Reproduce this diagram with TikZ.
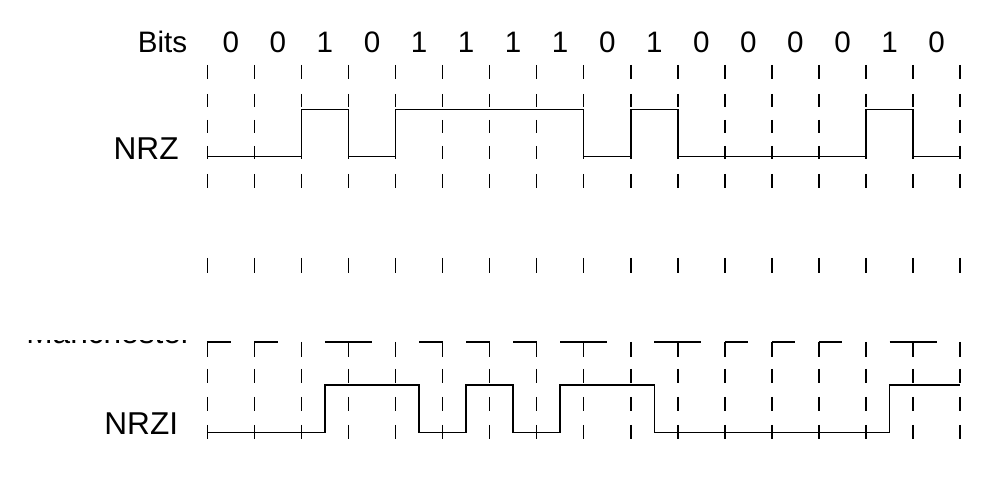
\documentclass[tikz,border=0pt]{standalone}
\usepackage{fontspec}
\setmainfont{Liberation Sans}
\tikzset{
  wave/.style={line width=.75pt},
  tick/.style={line width=.75pt},
  bitlabel/.style={inner sep=0pt,font=\fontsize{14.8}{17}\selectfont},
  siglabel/.style={inner sep=0pt,font=\fontsize{15.8}{18}\selectfont}
}
\begin{document}
\begin{tikzpicture}[x=.5pt,y=-.5pt,line join=miter,line cap=butt]
				\useasboundingbox (0,0) rectangle (1004,490);
				% labels
				\node[bitlabel,anchor=base east] (bits) at (187.5,52.3) {Bits};
				\node[siglabel,anchor=base east] (nrz) at (179,160) {NRZ};
				\node[siglabel,anchor=base east] (nrzi) at (178.5,435) {NRZI};
				\begin{scope}
					\clip (0,340.4) rectangle (200,346);
					\node[siglabel,anchor=base west] (manch) at (26,343.3) {Manchester};
				\end{scope}
				\begin{scope}[shift={(207.3,0)},x=23.525pt]
					\foreach \b [count=\i from 0] in {0,0,1,0,1,1,1,1,0,1,0,0,0,0,1,0}{
						\node[bitlabel,anchor=base] (b\i) at (\i+.5,52.3) {\b};
						\draw[wave] (\i+.5*\b,342) -- ++(.5,0);
					}
					\foreach \i in {0,...,16}{
						\foreach \a/\c in {65/79,94/107,120/133,146/159,174/188,258/273,342/357,369/383,397/411,425/439}{
							\draw[tick] (\i,\a) -- (\i,\c);
						}
					}
					% NRZ
					\draw[wave] (0,156.7) -- (2,156.7) |- (3,109.3) |- (4,156.7) |- (8,109.3) |- (9,156.7) |- (10,109.3) |- (14,156.7) |- (15,109.3) |- (16,156.7);
					% NRZI
					\draw[wave] (0,432.3) -- (2.5,432.3) |- (4.5,385) |- (5.5,432.3) |- (6.5,385) |- (7.5,432.3) |- (9.5,385) |- (14.5,432.3) |- (16,385);
				\end{scope}
			\end{tikzpicture}
\end{document}
